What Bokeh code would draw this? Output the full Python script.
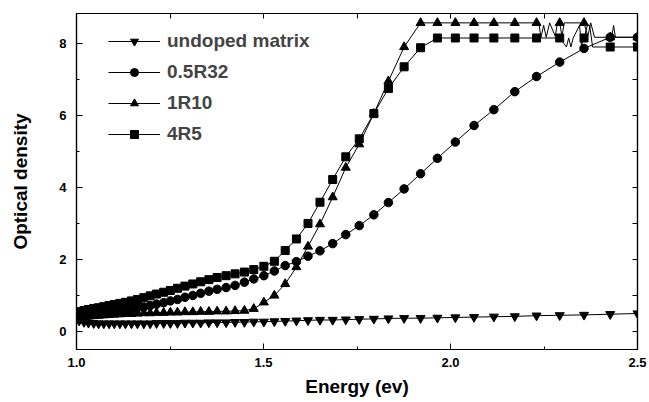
from bokeh.plotting import figure
from bokeh.models import (Range1d, LinearAxis, SingleIntervalTicker, FixedTicker,
                          Legend, LegendItem, NumeralTickFormatter)
from bokeh.embed import file_html
from bokeh.resources import INLINE

# Photon energy grid (eV), shared by all spectra (marker positions)
energy = [1.007, 1.020, 1.032, 1.046, 1.059, 1.073, 1.087, 1.101, 1.116, 1.131,
          1.147, 1.163, 1.180, 1.197, 1.214, 1.233, 1.251, 1.270, 1.290, 1.311,
          1.332, 1.354, 1.376, 1.400, 1.424, 1.449, 1.474, 1.501, 1.529, 1.558,
          1.588, 1.619, 1.651, 1.685, 1.720, 1.756, 1.795, 1.834, 1.876, 1.920,
          1.965, 2.013, 2.063, 2.116, 2.172, 2.230, 2.292, 2.357, 2.427, 2.500]

undoped = [0.30, 0.26, 0.24, 0.23, 0.22, 0.22, 0.22, 0.22, 0.22, 0.22,
           0.22, 0.22, 0.22, 0.22, 0.23, 0.23, 0.23, 0.23, 0.24, 0.24,
           0.24, 0.25, 0.25, 0.25, 0.26, 0.26, 0.27, 0.27, 0.28, 0.29,
           0.30, 0.31, 0.32, 0.32, 0.33, 0.34, 0.35, 0.36, 0.37, 0.37,
           0.38, 0.39, 0.40, 0.41, 0.42, 0.44, 0.45, 0.46, 0.48, 0.50]

r32 = [0.42, 0.44, 0.45, 0.47, 0.49, 0.51, 0.53, 0.55, 0.57, 0.59,
       0.62, 0.65, 0.68, 0.72, 0.76, 0.80, 0.85, 0.89, 0.95, 1.00,
       1.06, 1.12, 1.17, 1.22, 1.28, 1.37, 1.46, 1.55, 1.68, 1.83,
       1.94, 2.09, 2.24, 2.44, 2.69, 2.94, 3.24, 3.58, 3.96, 4.38,
       4.81, 5.26, 5.72, 6.16, 6.66, 7.08, 7.48, 7.86, 8.17, 8.17]

r10 = [0.38, 0.40, 0.42, 0.43, 0.44, 0.45, 0.46, 0.47, 0.48, 0.49,
       0.49, 0.50, 0.51, 0.51, 0.52, 0.52, 0.53, 0.53, 0.54, 0.54,
       0.55, 0.55, 0.56, 0.56, 0.57, 0.58, 0.63, 0.81, 1.00, 1.32,
       1.79, 2.36, 2.98, 3.73, 4.55, 5.20, 6.05, 6.95, 7.90, 8.57,
       8.57, 8.57, 8.57, 8.57, 8.57, 8.57, 8.57, 8.57, 8.17, 8.17]

r5 = [0.55, 0.58, 0.61, 0.64, 0.66, 0.69, 0.72, 0.75, 0.78, 0.81,
      0.85, 0.89, 0.94, 0.99, 1.04, 1.09, 1.14, 1.20, 1.26, 1.32,
      1.38, 1.44, 1.50, 1.55, 1.60, 1.65, 1.72, 1.81, 1.95, 2.25,
      2.57, 3.00, 3.59, 4.22, 4.85, 5.35, 6.05, 6.75, 7.35, 7.88,
      8.15, 8.15, 8.15, 8.15, 8.15, 8.15, 8.15, 8.15, 7.90, 7.90]

# extra (unmarked) readings in the saturated, noisy region
r10_noise_e = [2.236, 2.242, 2.249, 2.256, 2.265, 2.280, 2.286, 2.298, 2.304,
               2.367, 2.375, 2.385, 2.431, 2.436, 2.441]
r10_noise = [8.57, 8.17, 8.50, 8.17, 8.57, 8.20, 8.57, 8.20, 8.57,
             8.20, 8.57, 8.17, 8.17, 8.50, 8.17]
r5_noise_e = [2.310, 2.316, 2.322, 2.328, 2.345, 2.350, 2.366, 2.372, 2.380]
r5_noise = [7.90, 8.15, 7.90, 8.15, 8.50, 7.95, 8.50, 8.50, 7.90]

labels = ["undoped matrix", "0.5R32", "1R10", "4R5"]
markers = ["inverted_triangle", "circle", "triangle", "square"]
sizes = [9, 8.5, 9, 8]

# tick positions used for the mirrored (unlabelled) top and right axes
x_major = [1.0, 1.5, 2.0, 2.5]
x_minor = [1.25, 1.75, 2.25]
y_major = [0, 2, 4, 6, 8]
y_minor = [1, 3, 5, 7]


def merged(xs, ys, nx, ny):
    pts = sorted(list(zip(xs, ys)) + list(zip(nx, ny)))
    return [p[0] for p in pts], [p[1] for p in pts]


FONT = "Liberation Sans"

p = figure(width=649, height=402, output_backend="svg", toolbar_location=None,
           x_range=Range1d(1.0, 2.5), y_range=Range1d(-0.5, 8.83),
           min_border_left=76, min_border_right=12, min_border_top=13,
           min_border_bottom=53, x_axis_location=None, y_axis_location=None)
p.grid.visible = False
p.outline_line_color = "black"
p.outline_line_width = 1.2
p.background_fill_color = "white"
p.border_fill_color = "white"


def base_axis(ax):
    ax.axis_line_color = "black"
    ax.axis_line_width = 1.2
    ax.major_tick_in = 6
    ax.major_tick_out = 0
    ax.minor_tick_in = 3
    ax.minor_tick_out = 0
    ax.major_tick_line_color = "black"
    ax.minor_tick_line_color = "black"


def label_axis(ax):
    ax.major_label_text_font = FONT
    ax.major_label_text_font_style = "bold"
    ax.major_label_text_font_size = "13px"
    ax.major_label_text_color = "black"
    ax.axis_label_text_font = FONT
    ax.axis_label_text_font_style = "bold"
    ax.axis_label_text_font_size = "19px"
    ax.axis_label_text_color = "black"


xb = LinearAxis(ticker=SingleIntervalTicker(interval=0.5, num_minor_ticks=2),
                axis_label="Energy (ev)",
                formatter=NumeralTickFormatter(format="0.0"))
base_axis(xb)
label_axis(xb)
xb.major_label_standoff = 8
xb.axis_label_standoff = 6
p.add_layout(xb, "below")

yl = LinearAxis(ticker=SingleIntervalTicker(interval=2, num_minor_ticks=2),
                axis_label="Optical density")
base_axis(yl)
label_axis(yl)
yl.major_label_standoff = 10
yl.axis_label_standoff = 25
p.add_layout(yl, "left")

# mirrored axes: ticks only (major ticks drawn as long "minor" ticks so that
# no labels are produced)
xa = LinearAxis(ticker=FixedTicker(ticks=[], minor_ticks=x_major + x_minor))
base_axis(xa)
xa.minor_tick_in = 5
p.add_layout(xa, "above")
yr = LinearAxis(ticker=FixedTicker(ticks=[], minor_ticks=y_major + y_minor))
base_axis(yr)
yr.minor_tick_in = 5
p.add_layout(yr, "right")

series = [
    (energy, undoped, energy, undoped),
    (energy, r32, energy, r32),
    (energy, r10) + merged(energy, r10, r10_noise_e, r10_noise),
    (energy, r5) + merged(energy, r5, r5_noise_e, r5_noise),
]

items = []
for (mx, my, lx, ly), lab, mk, sz in zip(series, labels, markers, sizes):
    lr = p.line(lx, ly, line_color="black", line_width=1)
    sr = p.scatter(mx, my, marker=mk, size=sz, fill_color="black",
                   line_color="black")
    items.append(LegendItem(label=lab, renderers=[lr, sr]))

legend = Legend(items=items, location=(32, 204))
legend.border_line_color = None
legend.background_fill_alpha = 0
legend.label_text_font = FONT
legend.label_text_font_style = "bold"
legend.label_text_font_size = "19px"
legend.glyph_width = 52
legend.glyph_height = 20
legend.label_height = 20
legend.spacing = 9
legend.padding = 0
legend.margin = 0
legend.label_standoff = 7
p.add_layout(legend)

open("out.html", "w").write(file_html(p, INLINE))
